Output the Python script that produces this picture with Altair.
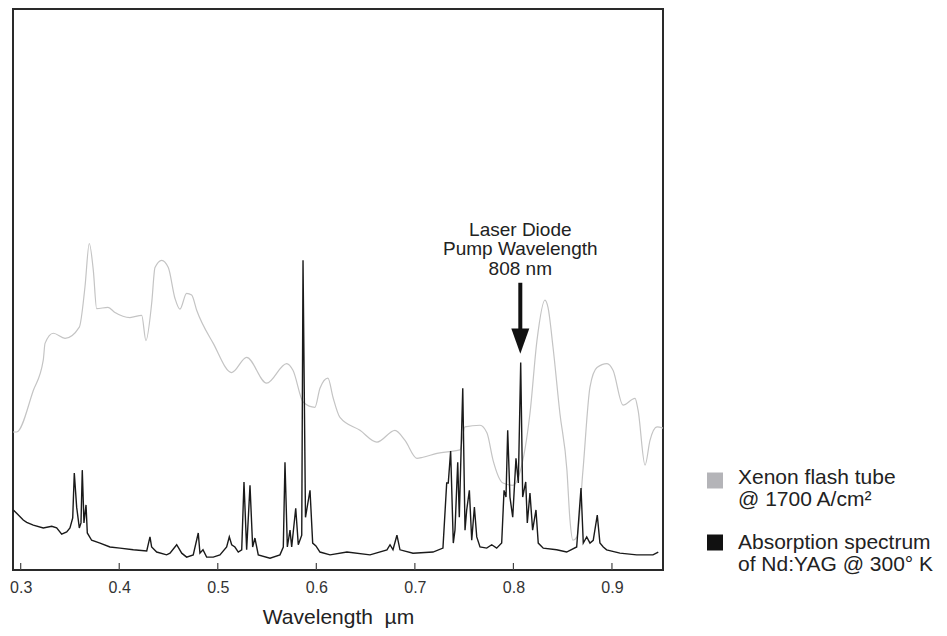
import altair as alt
import pandas as pd

# ---- data (wavelength in µm, relative intensity 0-100) ----
xenon_wl = [0.2922, 0.2959, 0.3128, 0.3229, 0.3247, 0.3331, 0.3450, 0.3595, 0.3652, 0.3696,
            0.3737, 0.3771, 0.3886, 0.3957, 0.4109, 0.4228, 0.4271, 0.4329, 0.4363, 0.4431,
            0.4498, 0.4566, 0.4616, 0.4684, 0.4735, 0.4786, 0.4954, 0.5141, 0.5293, 0.5496,
            0.5699, 0.5763, 0.5868, 0.5986, 0.6037, 0.6118, 0.6169, 0.6240, 0.6443, 0.6615,
            0.6798, 0.6900, 0.7021, 0.7082, 0.7224, 0.7458, 0.7508, 0.7661, 0.7732, 0.7793,
            0.7894, 0.7996, 0.8066, 0.8168, 0.8239, 0.8320, 0.8351, 0.8402, 0.8472, 0.8543,
            0.8574, 0.8604, 0.8645, 0.8706, 0.8777, 0.8848, 0.8950, 0.9011, 0.9112, 0.9234,
            0.9265, 0.9336, 0.9386, 0.9458, 0.9518]
xenon_rel = [24.6, 24.6, 32.0, 37.4, 40.4, 42.2, 41.3, 43.3, 50.4, 58.2,
             53.4, 46.6, 46.8, 45.9, 45.0, 45.4, 40.9, 47.5, 53.9, 55.2,
             53.9, 48.4, 46.5, 49.3, 49.0, 46.3, 40.4, 35.2, 37.9, 33.3,
             36.8, 35.6, 29.9, 29.0, 32.4, 34.2, 30.8, 27.2, 24.9, 22.8,
             24.9, 23.1, 19.9, 20.1, 20.8, 21.4, 25.5, 25.8, 24.4, 19.6,
             15.5, 15.1, 17.4, 27.9, 40.9, 48.1, 46.8, 39.7, 27.9, 17.8,
             8.9, 5.3, 5.9, 17.8, 32.6, 36.1, 36.8, 35.6, 29.4, 30.6,
             28.5, 18.7, 23.1, 25.5, 25.3]

nd_wl = [0.2925, 0.2959, 0.3026, 0.3061, 0.3128, 0.3229, 0.3315, 0.3365, 0.3416, 0.3467,
         0.3500, 0.3528, 0.3544, 0.3568, 0.3595, 0.3612, 0.3625, 0.3642, 0.3663, 0.3676,
         0.3720, 0.3805, 0.3906, 0.4008, 0.4143, 0.4279, 0.4312, 0.4329, 0.4380, 0.4481,
         0.4515, 0.4583, 0.4634, 0.4684, 0.4751, 0.4802, 0.4819, 0.4850, 0.4887, 0.4954,
         0.5022, 0.5090, 0.5117, 0.5141, 0.5174, 0.5208, 0.5243, 0.5266, 0.5293, 0.5327,
         0.5354, 0.5377, 0.5411, 0.5530, 0.5631, 0.5665, 0.5682, 0.5706, 0.5733, 0.5750,
         0.5791, 0.5817, 0.5852, 0.5865, 0.5890, 0.5936, 0.5963, 0.5996, 0.6037, 0.6139,
         0.6311, 0.6545, 0.6717, 0.6748, 0.6778, 0.6818, 0.6849, 0.6981, 0.7184, 0.7285,
         0.7323, 0.7339, 0.7363, 0.7390, 0.7407, 0.7435, 0.7451, 0.7486, 0.7509, 0.7526,
         0.7553, 0.7577, 0.7604, 0.7628, 0.7661, 0.7729, 0.7780, 0.7830, 0.7881, 0.7905,
         0.7925, 0.7942, 0.7965, 0.7993, 0.8026, 0.8050, 0.8074, 0.8094, 0.8125, 0.8141,
         0.8168, 0.8195, 0.8229, 0.8252, 0.8303, 0.8439, 0.8540, 0.8642, 0.8686, 0.8709,
         0.8744, 0.8777, 0.8810, 0.8851, 0.8878, 0.8912, 0.8946, 0.9081, 0.9251, 0.9416,
         0.9470]
nd_abs = [10.7, 10.1, 8.9, 8.5, 8.0, 7.5, 7.8, 7.5, 6.4, 6.8,
          7.5, 9.3, 17.3, 11.2, 7.5, 8.4, 17.8, 8.4, 11.6, 6.6,
          5.3, 4.8, 4.1, 3.9, 3.6, 3.4, 5.9, 4.1, 3.2, 2.7,
          3.0, 4.5, 3.0, 2.3, 2.7, 6.6, 3.0, 3.6, 2.3, 2.3,
          2.7, 4.1, 5.9, 4.5, 4.1, 3.2, 3.6, 15.7, 3.6, 15.1,
          4.1, 5.7, 2.7, 2.1, 2.7, 4.1, 19.2, 4.1, 7.1, 4.1,
          11.0, 4.5, 6.2, 55.2, 9.4, 14.2, 4.8, 4.3, 3.2, 2.7,
          3.2, 2.7, 3.6, 4.5, 3.6, 6.2, 3.6, 3.0, 3.2, 3.9,
          15.5, 15.5, 21.2, 4.8, 7.1, 19.2, 9.4, 32.4, 7.1, 10.7,
          14.2, 5.3, 11.2, 5.9, 4.1, 3.9, 4.5, 3.9, 4.8, 14.2,
          13.0, 24.9, 13.0, 9.4, 19.9, 15.5, 37.0, 13.0, 15.7, 8.4,
          13.7, 7.1, 10.7, 4.8, 3.9, 3.6, 3.2, 4.1, 14.6, 4.8,
          5.9, 4.8, 5.3, 9.8, 4.8, 4.1, 3.6, 3.0, 2.7, 2.7,
          3.2]

tick_values = [0.3, 0.4, 0.5, 0.6, 0.7, 0.8, 0.9]
pump_wl = [0.807]
pump_arrow_top = [51.2]
pump_arrow_bottom = [41.6]
pump_head = [40.8]
pump_label = ["Laser Diode", "Pump Wavelength", "808 nm"]
pump_label_y = [59.6]
legend_labels = [["Xenon flash tube", "@ 1700 A/cm\u00b2"],
                 ["Absorption spectrum", "of Nd:YAG @ 300\u00b0 K"]]
legend_colors = ["#b4b4b8", "#111111"]
x_title = "Wavelength \u00a0\u00b5m"

FONT = "Liberation Sans"
W, H = 650, 561

xs = alt.Scale(domain=[0.2922, 0.9518], nice=False, zero=False)
ys = alt.Scale(domain=[0, 100], nice=False)

xenon_df = pd.DataFrame({"wl": xenon_wl, "v": xenon_rel})
nd_df = pd.DataFrame({"wl": nd_wl, "v": nd_abs})
tick_df = pd.DataFrame({"t": tick_values})
pump_df = pd.DataFrame({"wl": pump_wl, "top": pump_arrow_top, "bot": pump_arrow_bottom,
                        "head": pump_head, "ly": pump_label_y})

xaxis = alt.Axis(values=tick_values, format=".1f", title=x_title,
                 labelFont=FONT, labelFontSize=16, labelColor="#333333",
                 ticks=False, tickSize=0, domain=False, grid=False,
                 labelPadding=22, labelBaseline="alphabetic",
                 titleFont=FONT, titleFontSize=21, titleFontWeight="normal",
                 titleColor="#222222", titleY=53, titleBaseline="alphabetic")

xenon = alt.Chart(xenon_df).mark_line(color="#c4c4c4", strokeWidth=1.2,
                                      interpolate="monotone").encode(
    x=alt.X("wl:Q", scale=xs, axis=xaxis),
    y=alt.Y("v:Q", scale=ys, axis=None),
)

nd = alt.Chart(nd_df).mark_line(color="#1a1a1a", strokeWidth=1.4).encode(
    x=alt.X("wl:Q", scale=xs),
    y=alt.Y("v:Q", scale=ys),
)

ticks = alt.Chart(tick_df).mark_rule(color="#444444", strokeWidth=1.2).encode(
    x=alt.X("t:Q", scale=xs),
    y=alt.value(H - 7),
    y2=alt.value(H),
)

shaft = alt.Chart(pump_df).mark_rule(color="#111111", strokeWidth=4).encode(
    x=alt.X("wl:Q", scale=xs),
    y=alt.Y("top:Q", scale=ys),
    y2="bot:Q",
)

head = alt.Chart(pump_df).mark_point(filled=True, opacity=1, color="#111111",
                                     shape="M-1,-1.4L1,-1.4L0,1.4Z", size=324,
                                     strokeWidth=0).encode(
    x=alt.X("wl:Q", scale=xs),
    y=alt.Y("head:Q", scale=ys),
)

label = alt.Chart(pump_df).mark_text(text=pump_label, font=FONT, fontSize=19,
                                     lineHeight=19.5, align="center",
                                     baseline="alphabetic", color="#222222").encode(
    x=alt.X("wl:Q", scale=xs),
    y=alt.Y("ly:Q", scale=ys),
)

one = pd.DataFrame({"k": [0]})
legend_layers = []
legend_sq_y = [471.5, 533.5]
legend_txt_y = [475, 540]
for lab, col, sy, ty in zip(legend_labels, legend_colors, legend_sq_y, legend_txt_y):
    legend_layers.append(
        alt.Chart(one).mark_square(color=col, size=256, opacity=1).encode(
            x=alt.value(702), y=alt.value(sy))
    )
    legend_layers.append(
        alt.Chart(one).mark_text(text=lab, font=FONT, fontSize=21, lineHeight=22,
                                 align="left", baseline="alphabetic",
                                 color="#222222").encode(
            x=alt.value(725), y=alt.value(ty))
    )

chart = alt.layer(xenon, nd, ticks, shaft, head, label, *legend_layers).properties(
    width=W, height=H,
    autosize=alt.AutoSizeParams(type="none"),
    padding={"left": 5, "top": 1, "right": 276, "bottom": 58},
    background="white",
).configure_view(stroke="#2a2a2a", strokeWidth=2)

chart.save("out.html", embed_options={"renderer": "svg", "actions": False})
